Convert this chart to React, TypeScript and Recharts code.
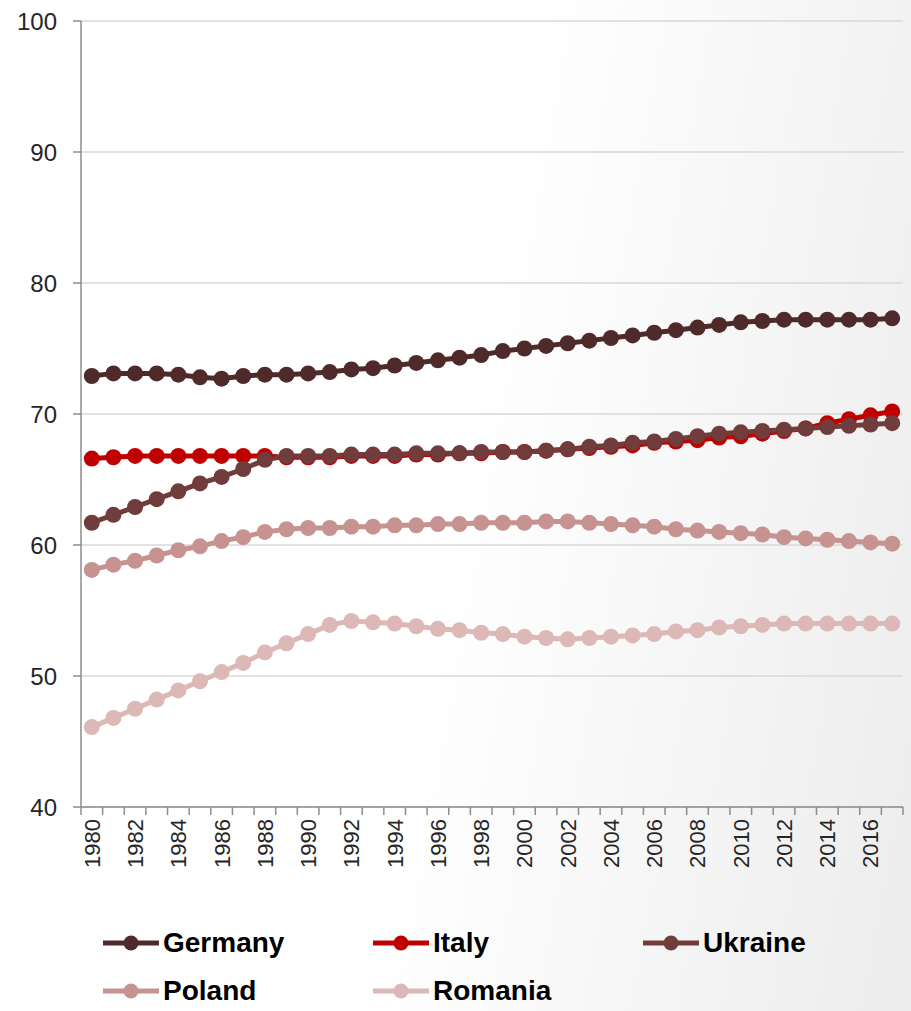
import React from "react";
import { LineChart, Line, XAxis, YAxis, CartesianGrid } from "recharts";

const years = [
  1980, 1981, 1982, 1983, 1984, 1985, 1986, 1987, 1988, 1989,
  1990, 1991, 1992, 1993, 1994, 1995, 1996, 1997, 1998, 1999,
  2000, 2001, 2002, 2003, 2004, 2005, 2006, 2007, 2008, 2009,
  2010, 2011, 2012, 2013, 2014, 2015, 2016, 2017,
];

const germany = [
  72.9, 73.1, 73.1, 73.1, 73.0, 72.8, 72.7, 72.9, 73.0, 73.0,
  73.1, 73.2, 73.4, 73.5, 73.7, 73.9, 74.1, 74.3, 74.5, 74.8,
  75.0, 75.2, 75.4, 75.6, 75.8, 76.0, 76.2, 76.4, 76.6, 76.8,
  77.0, 77.1, 77.2, 77.2, 77.2, 77.2, 77.2, 77.3,
];

const italy = [
  66.6, 66.7, 66.8, 66.8, 66.8, 66.8, 66.8, 66.8, 66.8, 66.7,
  66.7, 66.7, 66.8, 66.8, 66.8, 66.9, 66.9, 67.0, 67.0, 67.1,
  67.1, 67.2, 67.3, 67.4, 67.5, 67.6, 67.8, 67.9, 68.0, 68.2,
  68.3, 68.5, 68.7, 68.9, 69.3, 69.6, 69.9, 70.2,
];

const ukraine = [
  61.7, 62.3, 62.9, 63.5, 64.1, 64.7, 65.2, 65.8, 66.5, 66.8,
  66.8, 66.8, 66.9, 66.9, 66.9, 67.0, 67.0, 67.0, 67.1, 67.1,
  67.1, 67.2, 67.3, 67.5, 67.6, 67.8, 67.9, 68.1, 68.3, 68.5,
  68.6, 68.7, 68.8, 68.9, 69.0, 69.1, 69.2, 69.3,
];

const poland = [
  58.1, 58.5, 58.8, 59.2, 59.6, 59.9, 60.3, 60.6, 61.0, 61.2,
  61.3, 61.3, 61.4, 61.4, 61.5, 61.5, 61.6, 61.6, 61.7, 61.7,
  61.7, 61.8, 61.8, 61.7, 61.6, 61.5, 61.4, 61.2, 61.1, 61.0,
  60.9, 60.8, 60.6, 60.5, 60.4, 60.3, 60.2, 60.1,
];

const romania = [
  46.1, 46.8, 47.5, 48.2, 48.9, 49.6, 50.3, 51.0, 51.8, 52.5,
  53.2, 53.9, 54.2, 54.1, 54.0, 53.8, 53.6, 53.5, 53.3, 53.2,
  53.0, 52.9, 52.8, 52.9, 53.0, 53.1, 53.2, 53.4, 53.5, 53.7,
  53.8, 53.9, 54.0, 54.0, 54.0, 54.0, 54.0, 54.0,
];

const yTicks = [40, 50, 60, 70, 80, 90, 100];

const series = [
  { key: "Germany", color: "#4e2a2a", values: germany },
  { key: "Italy", color: "#c00000", values: italy },
  { key: "Ukraine", color: "#703c3c", values: ukraine },
  { key: "Poland", color: "#c69391", values: poland },
  { key: "Romania", color: "#dcb8b6", values: romania },
];

const data = years.map((year, i) => {
  const row: Record<string, number> = { year };
  series.forEach((s) => {
    row[s.key] = s.values[i];
  });
  return row;
});

// tick marks sit between categories, labels at category centres
const boundaries = [...years.map((y) => y - 0.5), years[years.length - 1] + 0.5];

const CHART_W = 911;
const CHART_H = 890;
const LEFT = 81;
const RIGHT = 8;
const HALF_STEP = (CHART_W - LEFT - RIGHT) / years.length / 2;

const axisColor = "#8c8c8c";
const textColor = "#262626";
const font = "'Liberation Sans', Arial, sans-serif";

function YearTick(props: any) {
  const { x, y, payload } = props;
  const year = payload.value + 0.5;
  if (year % 2 !== 0 || year > years[years.length - 1]) return null;
  return (
    <g transform={`translate(${x + HALF_STEP},${y})`}>
      <text
        transform="rotate(-90)"
        x={-2}
        y={0}
        dy="0.36em"
        textAnchor="end"
        fontSize={22}
        fontFamily={font}
        fill={textColor}
      >
        {year}
      </text>
    </g>
  );
}

function LegendItem({ label, color }: { label: string; color: string }) {
  return (
    <div style={{ display: "flex", alignItems: "center", width: 270 }}>
      <svg width={58} height={20}>
        <line x1={0} y1={10} x2={56} y2={10} stroke={color} strokeWidth={5} />
        <circle cx={28} cy={10} r={7.5} fill={color} />
      </svg>
      <span
        style={{
          fontFamily: font,
          fontWeight: "bold",
          fontSize: 28,
          color: "#000",
          marginLeft: 2,
        }}
      >
        {label}
      </span>
    </div>
  );
}

export default function App() {
  return (
    <div
      style={{
        position: "absolute",
        left: 0,
        top: 0,
        width: 911,
        height: 1011,
        background: "linear-gradient(100deg, #ffffff 50%, #ececec 100%)",
      }}
    >
      <LineChart
        width={CHART_W}
        height={CHART_H}
        data={data}
        margin={{ top: 21, right: RIGHT, left: 0, bottom: 0 }}
      >
        <CartesianGrid vertical={false} stroke="#d9d9d9" strokeWidth={1.5} />
        <XAxis
          dataKey="year"
          type="number"
          domain={[boundaries[0], boundaries[boundaries.length - 1]]}
          ticks={boundaries}
          interval={0}
          height={CHART_H - 21 - 786}
          tickSize={8}
          tickMargin={2}
          tick={<YearTick />}
          axisLine={{ stroke: axisColor, strokeWidth: 1.5 }}
          tickLine={{ stroke: axisColor, strokeWidth: 1.5 }}
        />
        <YAxis
          domain={[40, 100]}
          ticks={yTicks}
          interval={0}
          width={LEFT}
          tickSize={8}
          tickMargin={16}
          tick={{ fontSize: 24, fontFamily: font, fill: textColor }}
          axisLine={{ stroke: axisColor, strokeWidth: 1.5 }}
          tickLine={{ stroke: axisColor, strokeWidth: 1.5 }}
        />
        {series.map((s) => (
          <Line
            key={s.key}
            dataKey={s.key}
            stroke={s.color}
            strokeWidth={5}
            dot={{ r: 8, fill: s.color, stroke: s.color, strokeWidth: 0 }}
            activeDot={false}
            isAnimationActive={false}
          />
        ))}
      </LineChart>

      <div style={{ position: "absolute", left: 103, top: 927 }}>
        <div style={{ display: "flex" }}>
          {series.slice(0, 3).map((s) => (
            <LegendItem key={s.key} label={s.key} color={s.color} />
          ))}
        </div>
        <div style={{ display: "flex", marginTop: 16 }}>
          {series.slice(3).map((s) => (
            <LegendItem key={s.key} label={s.key} color={s.color} />
          ))}
        </div>
      </div>
    </div>
  );
}
